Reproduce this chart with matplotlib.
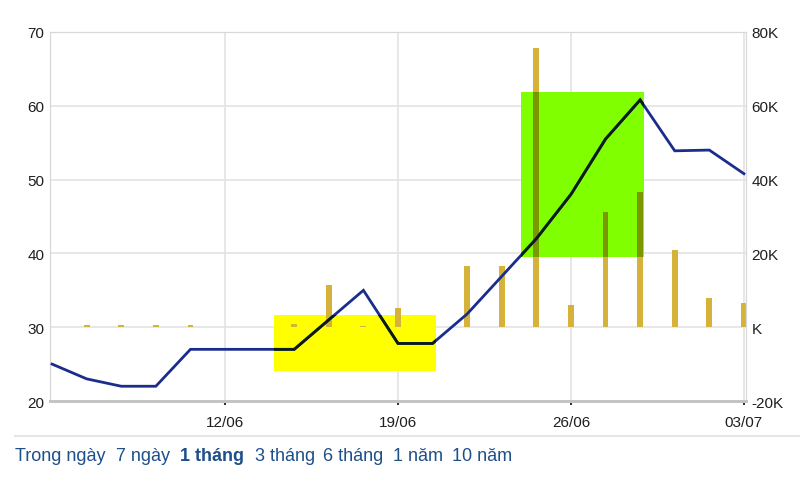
import numpy as np
import matplotlib.pyplot as plt
from matplotlib.patches import Rectangle
from matplotlib.lines import Line2D

plt.rcParams['font.family'] = ['Liberation Sans', 'DejaVu Sans']

# -----------------------------
# DATA (one point per trading day)
# -----------------------------
days = np.arange(21)
price = [25.0, 23.0, 22.0, 22.0, 27.0, 27.0, 27.0, 27.0, 31.0, 35.0, 27.8,
         27.8, 31.8, 36.9, 42.0, 48.0, 55.5, 60.8, 53.9, 54.0, 50.8]
volume_k = [0, 0.5, 0.5, 0.5, 0.5, 0, 0, 0.8, 11.4, 0.3, 5.1,
            0, 16.5, 16.5, 75.6, 6.0, 31.2, 36.6, 20.9, 7.9, 6.5]
date_ticks = [5, 10, 15, 20]
date_labels = ["12/06", "19/06", "26/06", "03/07"]
price_ticks = [20, 30, 40, 50, 60, 70]
vol_ticks = [-20, 0, 20, 40, 60, 80]
vol_labels = ["-20K", "K", "20K", "40K", "60K", "80K"]
period_labels = ["Trong ngày", "7 ngày", "1 tháng", "3 tháng", "6 tháng", "1 năm", "10 năm"]
period_x = [15, 116, 180, 255, 323, 393, 452]  # pixel x of each link
active_period = "1 tháng"

# highlight boxes (x in day index, y in volume K)
yellow_box = (6.42, 11.1, -11.9, 3.25)
green_box = (13.57, 17.1, 19.0, 63.7)

# -----------------------------
# STYLE
# -----------------------------
line_col = "#1b2d8c"
dark_col = "#0b1d12"
bar_col = "#d5b33b"
bar_dark = "#7c9800"
grid_col = "#e3e3e3"
text_col = "#1e1e1e"
link_col = "#1d4f8a"

fig = plt.figure(figsize=(8, 4.89), dpi=100)
ax = fig.add_axes([50 / 800, 1 - 402 / 489, 696 / 800, 369 / 489])  # volume axis
ax2 = ax.twinx()  # price axis

# volume axis on the right
ax.set_ylim(-20, 80)
ax.set_xlim(-0.06, 20.06)
ax.set_yticks(vol_ticks)
ax.set_yticklabels(vol_labels)
ax.yaxis.tick_right()
ax.set_xticks(date_ticks)
ax.set_xticklabels(date_labels)
ax.grid(True, color=grid_col, linewidth=1.2)
ax.set_axisbelow(True)

# price axis on the left
ax2.set_ylim(20, 70)
ax2.set_yticks(price_ticks)
ax2.yaxis.tick_left()

for a in (ax, ax2):
    a.tick_params(axis="y", length=0, labelsize=11, colors=text_col, pad=4)
    for s in a.spines.values():
        s.set_color("#d8d8d8")
    a.spines["bottom"].set_color("#c4c4c4")
    a.spines["bottom"].set_linewidth(2)
ax.tick_params(axis="x", length=3, width=1.5, color="#333333", labelsize=11,
               labelcolor=text_col, pad=7)

# highlight boxes
rects = []
for (x0, x1, y0, y1), col in [(yellow_box, "#ffff00"), (green_box, "#80ff00")]:
    r = Rectangle((x0, y0), x1 - x0, y1 - y0, facecolor=col, edgecolor="none", zorder=1)
    ax.add_patch(r)
    rects.append(r)

# volume bars
ax.bar(days, volume_k, width=0.17, color=bar_col, zorder=2)
dark_bars = ax.bar(days, volume_k, width=0.17, color=bar_dark, zorder=3)
for b in dark_bars:
    b.set_clip_path(rects[1])

# price line, darker where it crosses the boxes
ax2.plot(days, price, color=line_col, linewidth=2.0, solid_joinstyle="miter", zorder=3)
for r in rects:
    ln, = ax2.plot(days, price, color=dark_col, linewidth=2.0, solid_joinstyle="miter", zorder=4)
    ln.set_clip_path(r)

# period links underneath
fig.add_artist(Line2D([15 / 800, 1], [1 - 437 / 489] * 2, color="#e6e6e6", linewidth=1.5))
for lab, px in zip(period_labels, period_x):
    fig.text(px / 800, 1 - 457 / 489, lab, fontsize=13, color=link_col, va="center",
             fontweight="bold" if lab == active_period else "normal")

fig.savefig("out.png", dpi=100)
